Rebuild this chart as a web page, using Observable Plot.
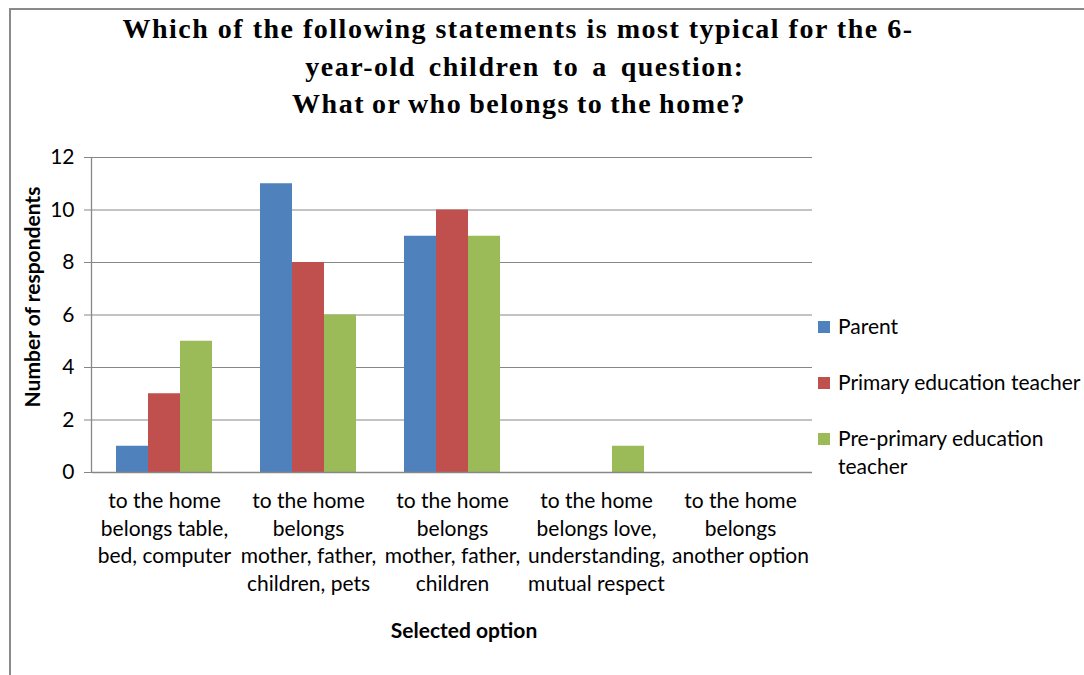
<!DOCTYPE html>
<html>
<head>
<meta charset="utf-8">
<script src="https://cdn.jsdelivr.net/npm/d3@7"></script>
<script src="https://cdn.jsdelivr.net/npm/@observablehq/plot@0.6"></script>
<style>
  html, body { margin: 0; padding: 0; background: #fff; overflow: hidden; }
  #wrap { position: relative; width: 1084px; height: 675px; overflow: hidden; font-family: Lato, "Open Sans", sans-serif; color: #000; background: #fff; }
  #chart { position: absolute; left: 0; top: 0; }
  .title { position: absolute; font-family: "Liberation Serif", "Times New Roman", serif; font-weight: bold; font-size: 28px; letter-spacing: 1.5px; white-space: nowrap; transform: translateX(-50%); line-height: 1; }
  .axtitle { position: absolute; font-weight: bold; font-size: 21px; white-space: nowrap; }
  .leg { position: absolute; left: 818px; font-size: 21px; line-height: 28px; }
  .leg .sw { position: absolute; left: 0; top: 9px; width: 12px; height: 12px; }
  .leg .tx { position: absolute; left: 20px; top: 0; white-space: nowrap; }
</style>
</head>
<body>
<div id="wrap">
  <div id="chart"></div>
</div>
<script>
const titleLines = [
  "Which of the following statements is most typical for the 6-",
  "year-old children to a question:",
  "What or who belongs to the home?"
];
const categories = [
  "to the home\nbelongs table,\nbed, computer",
  "to the home\nbelongs\nmother, father,\nchildren, pets",
  "to the home\nbelongs\nmother, father,\nchildren",
  "to the home\nbelongs love,\nunderstanding,\nmutual respect",
  "to the home\nbelongs\nanother option"
];
const seriesNames = ["Parent", "Primary education teacher", "Pre-primary education teacher"];
const seriesColors = ["#4F81BD", "#C0504D", "#9BBB59"];
const parentValues = [1, 11, 9, 0, 0];
const primaryValues = [3, 8, 10, 0, 0];
const prePrimaryValues = [5, 6, 9, 1, 0];
const yTicks = [0, 2, 4, 6, 8, 10, 12];
const yLabel = "Number of respondents";
const xLabel = "Selected option";

const seriesValues = [parentValues, primaryValues, prePrimaryValues];
const rows = [];
categories.forEach((c, i) => {
  seriesNames.forEach((s, j) => rows.push({category: c, series: s, value: seriesValues[j][i]}));
});

const W = 1084, H = 675;
const plot = Plot.plot({
  width: W,
  height: H,
  marginLeft: 91,
  marginRight: 272,
  marginTop: 157,
  marginBottom: 203,
  style: {fontFamily: "Lato, 'Open Sans', sans-serif", fontSize: "21px", color: "#000", background: "transparent"},
  fx: {domain: categories, padding: 0, label: null},
  x: {domain: seriesNames, paddingInner: 0, paddingOuter: 0.73, axis: null},
  y: {domain: [0, 12], ticks: yTicks, label: null},
  color: {domain: seriesNames, range: seriesColors},
  marks: [
    Plot.gridY(yTicks, {stroke: "#878787", strokeOpacity: 1, strokeWidth: 1}),
    Plot.barY(rows, {fx: "category", x: "series", y: "value", fill: "series"}),
    Plot.ruleY([0], {stroke: "#878787", strokeWidth: 1.3}),
    Plot.axisY(yTicks, {tickSize: 8, tickPadding: 10, stroke: "#878787", fontSize: 21, label: null}),
    Plot.axisFx({anchor: "bottom", tickSize: 0, tickPadding: 16, fontSize: 21, lineHeight: 1.31, label: null, textAnchor: "middle"})
  ]
});
const ns = "http://www.w3.org/2000/svg";
// outer chart-area border
const border = document.createElementNS(ns, "rect");
border.setAttribute("x", 10); border.setAttribute("y", 9);
border.setAttribute("width", 1200); border.setAttribute("height", 800);
border.setAttribute("fill", "none"); border.setAttribute("stroke", "#8a8a8a"); border.setAttribute("stroke-width", 2);
plot.appendChild(border);
// left axis line spanning the y range
const ys = plot.scale("y");
const ln = document.createElementNS(ns, "line");
ln.setAttribute("x1", 91.5); ln.setAttribute("x2", 91.5);
ln.setAttribute("y1", ys.apply(12)); ln.setAttribute("y2", ys.apply(0));
ln.setAttribute("stroke", "#878787"); ln.setAttribute("stroke-width", 1.3);
plot.appendChild(ln);
document.getElementById("chart").appendChild(plot);

const wrap = document.getElementById("wrap");
const titlePos = [[518, 15, 0], [525, 53, 4.5], [519, 90, -1.5]];
titleLines.forEach((t, i) => {
  const d = document.createElement("div");
  d.className = "title";
  d.textContent = t;
  d.style.left = titlePos[i][0] + "px";
  d.style.top = titlePos[i][1] + "px";
  d.style.wordSpacing = titlePos[i][2] + "px";
  wrap.appendChild(d);
});
const yl = document.createElement("div");
yl.className = "axtitle";
yl.textContent = yLabel;
yl.style.left = "31px"; yl.style.top = "297px";
yl.style.transform = "translate(-50%,-50%) rotate(-90deg)";
wrap.appendChild(yl);
const xl = document.createElement("div");
xl.className = "axtitle";
xl.textContent = xLabel;
xl.style.left = "464px"; xl.style.top = "629px";
xl.style.transform = "translate(-50%,-50%)";
wrap.appendChild(xl);

const legTops = [312, 368, 424];
seriesNames.forEach((s, i) => {
  const d = document.createElement("div");
  d.className = "leg";
  d.style.top = legTops[i] + "px";
  const sw = document.createElement("div");
  sw.className = "sw"; sw.style.background = seriesColors[i];
  const tx = document.createElement("div");
  tx.className = "tx";
  tx.innerHTML = i === 2 ? "Pre-primary education<br>teacher" : s;
  d.appendChild(sw); d.appendChild(tx);
  wrap.appendChild(d);
});
</script>
</body>
</html>
